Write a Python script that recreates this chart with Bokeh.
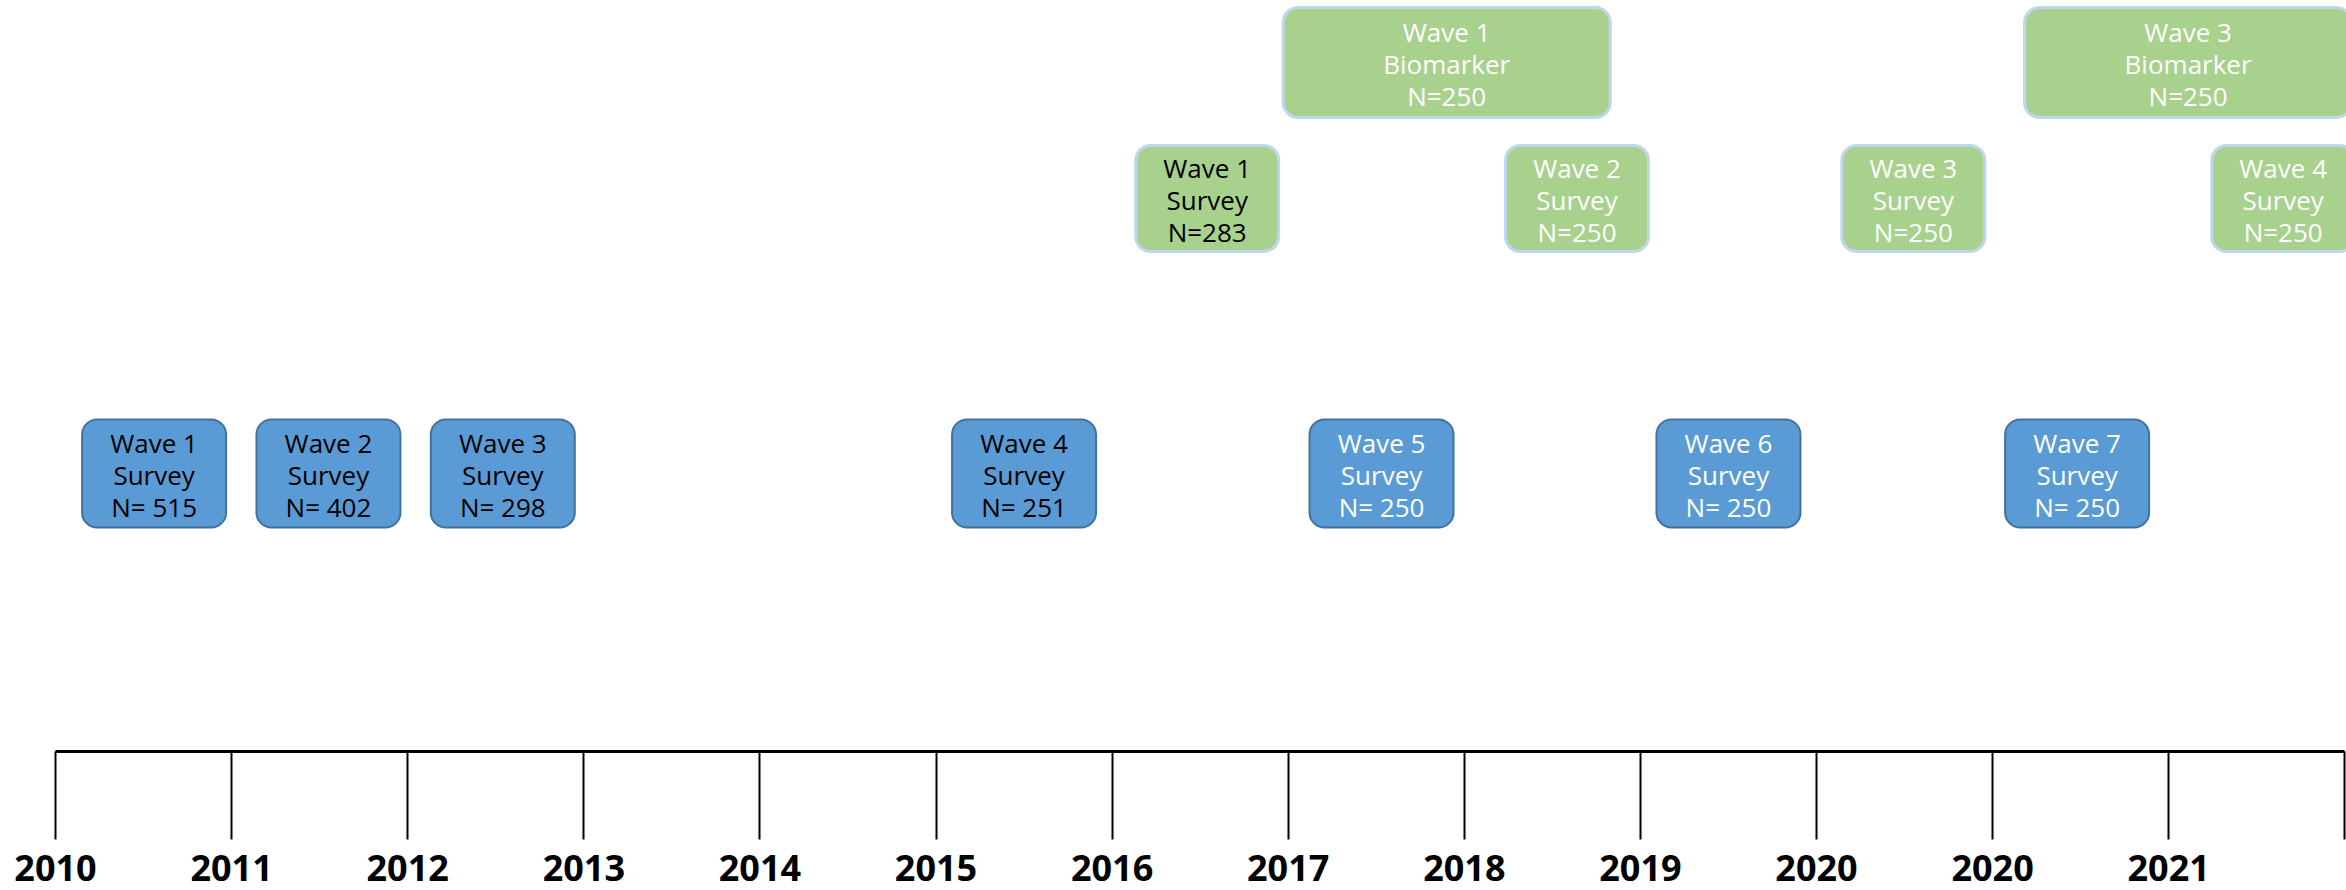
from bokeh.plotting import figure
from bokeh.models import ColumnDataSource, Range1d, FixedTicker
from bokeh.core.properties import value
from bokeh.embed import file_html
from bokeh.resources import INLINE

# ---------------- data ----------------
year_labels = ["2010", "2011", "2012", "2013", "2014", "2015", "2016",
               "2017", "2018", "2019", "2020", "2020", "2021", ""]

# main survey waves (blue)
survey_waves = ["Wave 1", "Wave 2", "Wave 3", "Wave 4", "Wave 5", "Wave 6", "Wave 7"]
survey_kind = ["Survey"] * 7
survey_n = [515, 402, 298, 251, 250, 250, 250]
survey_time = [0.56, 1.55, 2.54, 5.50, 7.53, 9.50, 11.48]
survey_txtcol = ["black", "black", "black", "black", "white", "white", "white"]

# biomarker sub-study surveys (green)
sub_waves = ["Wave 1", "Wave 2", "Wave 3", "Wave 4"]
sub_kind = ["Survey"] * 4
sub_n = [283, 250, 250, 250]
sub_time = [6.54, 8.64, 10.55, 12.65]
sub_txtcol = ["black", "white", "white", "white"]

# biomarker collections (green, wide)
bio_waves = ["Wave 1", "Wave 3"]
bio_kind = ["Biomarker", "Biomarker"]
bio_n = [250, 250]
bio_time = [7.90, 12.11]
bio_txtcol = ["white", "white"]

# ---------------- layout ----------------
W, H = 2346, 890
PX_PER_YEAR = 176.1
LEFT_PAD = 55         # pixels left of the first tick
AXIS_Y = 751          # pixels from top where the timeline sits
x0 = -LEFT_PAD / PX_PER_YEAR
x1 = x0 + W / PX_PER_YEAR
p = figure(width=W, height=H, output_backend="svg", toolbar_location=None,
           x_range=Range1d(x0, x1), y_range=Range1d(AXIS_Y - H, AXIS_Y),
           min_border_left=0, min_border_right=0, min_border_top=0,
           min_border_bottom=0, y_axis_location=None,
           outline_line_color=None, background_fill_color="white",
           border_fill_color="white")
p.xgrid.visible = False
p.ygrid.visible = False

ax = p.xaxis[0]
ax.fixed_location = 0
ax.bounds = (0, len(year_labels) - 1)
ax.ticker = FixedTicker(ticks=list(range(len(year_labels))))
ax.major_label_overrides = {i: lab for i, lab in enumerate(year_labels)}
ax.major_tick_out = 88
ax.major_tick_in = 0
ax.minor_tick_out = 0
ax.minor_tick_in = 0
ax.axis_line_width = 3
ax.axis_line_color = "black"
ax.major_tick_line_width = 2
ax.major_tick_line_color = "black"
ax.major_label_text_font = "Open Sans"
ax.major_label_text_font_style = "bold"
ax.major_label_text_font_size = "36px"
ax.major_label_text_color = "black"
ax.major_label_standoff = 15

FONT = value("Open Sans")
FSIZE = value("26px")


def draw_group(waves, kinds, ns, times, txtcol, ycenter, wpx, hpx,
               fill, line, lw, nfmt):
    src = ColumnDataSource(dict(
        x=times, y=[ycenter] * len(times),
        l1=waves, l2=kinds, l3=[nfmt.format(n) for n in ns], tc=txtcol))
    p.rect(x="x", y="y", width=wpx, height=hpx, width_units="screen",
           height_units="screen", source=src, fill_color=fill,
           line_color=line, line_width=lw, border_radius=15)
    for col, off in (("l1", -31), ("l2", 1), ("l3", 33)):
        p.text(x="x", y="y", text=col, source=src, y_offset=off,
               text_align="center", text_baseline="middle",
               text_font=FONT, text_font_size=FSIZE, text_color="tc")


draw_group(survey_waves, survey_kind, survey_n, survey_time, survey_txtcol,
           278, 144, 108, "#5B9BD5", "#41719C", 2, "N= {}")
draw_group(sub_waves, sub_kind, sub_n, sub_time, sub_txtcol,
           553, 143, 106, "#A9D18E", "#BDD7EE", 3, "N={}")
draw_group(bio_waves, bio_kind, bio_n, bio_time, bio_txtcol,
           689, 327, 110, "#A9D18E", "#BDD7EE", 3, "N={}")

open("out.html", "w").write(file_html(p, INLINE))
